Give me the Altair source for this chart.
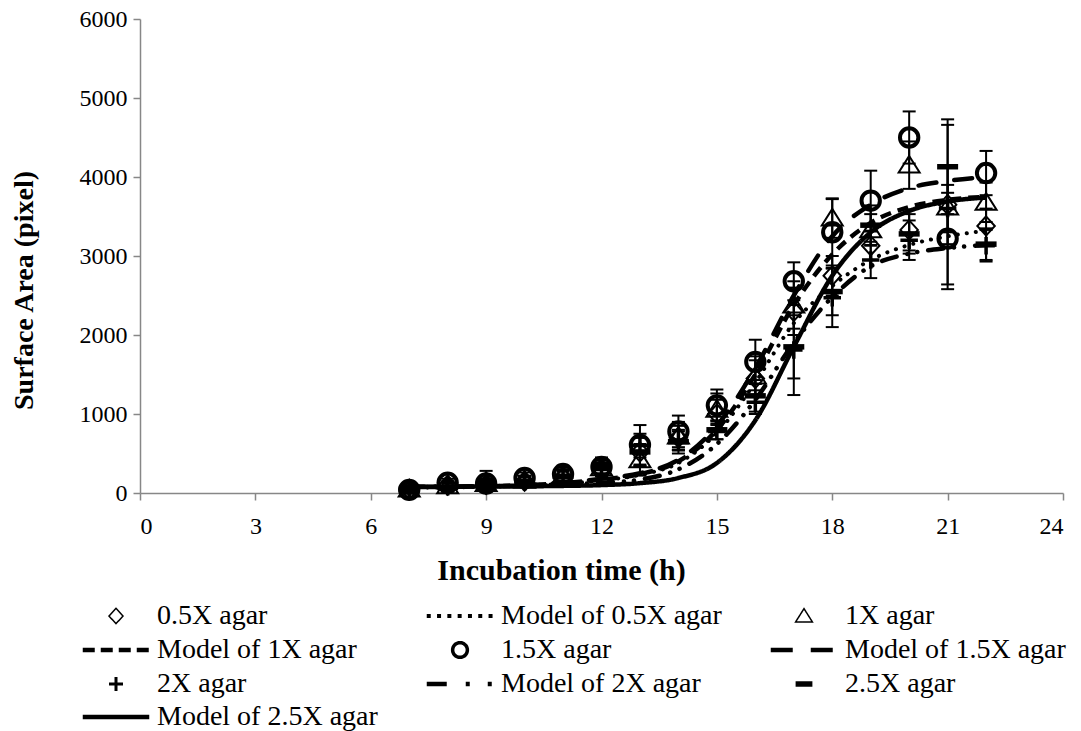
import math
import altair as alt
import pandas as pd

SERIF = "Liberation Serif"

hours = list(range(7, 23))

groups = ["0.5X agar", "1X agar", "1.5X agar", "2X agar", "2.5X agar"]
models = ["Model of 0.5X agar", "Model of 1X agar", "Model of 1.5X agar",
          "Model of 2X agar", "Model of 2.5X agar"]

# observed surface area (pixel), mean per hour
mean_05x = [40, 100, 110, 150, 200, 300, 520, 700, 1000, 1450, 2300, 2750, 3130, 3330, 3650, 3380]
mean_1x = [50, 90, 120, 160, 220, 320, 420, 720, 1060, 1480, 2380, 3480, 3330, 4150, 3620, 3680]
mean_15x = [40, 130, 120, 190, 240, 330, 610, 780, 1110, 1660, 2680, 3300, 3700, 4500, 3220, 4050]
mean_2x = [60, 80, 150, 140, 220, 350, 600, 660, 780, 1150, 1810, 2470, 2950, 3200, 3600, 3130]
mean_25x = [50, 70, 110, 150, 210, 310, 520, 650, 800, 1230, 1850, 2550, 3390, 3280, 4130, 3150]

# standard deviations
sd_05x = [40, 50, 60, 60, 70, 80, 180, 150, 180, 230, 300, 250, 180, 260, 500, 220]
sd_1x = [40, 50, 60, 60, 70, 90, 200, 180, 200, 250, 300, 250, 200, 300, 1040, 250]
sd_15x = [50, 50, 60, 70, 80, 100, 250, 200, 200, 280, 240, 420, 380, 330, 580, 280]
sd_2x = [40, 60, 130, 60, 80, 100, 150, 120, 100, 150, 570, 370, 230, 250, 300, 200]
sd_25x = [40, 50, 60, 60, 80, 100, 180, 150, 120, 200, 400, 300, 250, 250, 600, 200]

# fitted growth models, evaluated hourly
fit_05x = [70, 72, 78, 90, 115, 160, 230, 380, 760, 1400, 2150, 2620, 2950, 3140, 3250, 3320]
fit_1x = [75, 78, 85, 100, 125, 170, 240, 400, 800, 1500, 2380, 3020, 3420, 3620, 3710, 3750]
fit_15x = [75, 78, 85, 100, 130, 180, 250, 420, 850, 1580, 2500, 3250, 3650, 3860, 3950, 4000]
fit_2x = [80, 82, 86, 95, 110, 130, 170, 300, 620, 1180, 1900, 2480, 2870, 3030, 3100, 3140]
fit_25x = [80, 80, 82, 85, 90, 100, 125, 190, 380, 920, 1850, 2750, 3300, 3570, 3690, 3740]

means = dict(zip(groups, [mean_05x, mean_1x, mean_15x, mean_2x, mean_25x]))
sds = dict(zip(groups, [sd_05x, sd_1x, sd_15x, sd_2x, sd_25x]))
fits = dict(zip(models, [fit_05x, fit_1x, fit_15x, fit_2x, fit_25x]))

# legend reads row by row: each group followed by its model
legend_order = [name for pair in zip(groups, models) for name in pair]
LEGEND_COLS = 3
n_entries = len(legend_order)
n_rows = math.ceil(n_entries / LEGEND_COLS)
# Vega fills multi-column legends column-first and then re-flows rows;
# arrange the scale domain so the entries come out in reading order.
placement = sorted(range(n_entries), key=lambda i: (i % n_rows, i))
legend_domain = [None] * n_entries
for k, idx in enumerate(placement):
    legend_domain[idx] = legend_order[k]

# marker outlines in unit symbol space
marker_path = {
    "0.5X agar": "M0,-0.22L0.2,0L0,0.22L-0.2,0Z",
    "1X agar": "M0,-0.21L0.24,0.17L-0.24,0.17Z",
    "1.5X agar": "M0.21,0A0.21,0.21,0,1,1,-0.21,0A0.21,0.21,0,1,1,0.21,0Z",
    "2X agar": "M-0.2,0H0.2M0,-0.2V0.2",
    "2.5X agar": "M-0.24,0H0.24",
}
line_path = "M-0.95,0H0.95"
marker_width = {"0.5X agar": 2, "1X agar": 2, "1.5X agar": 4, "2X agar": 3.5, "2.5X agar": 5.5}

line_style = {
    "Model of 0.5X agar": dict(strokeDash=[0.1, 9], strokeCap="round", strokeWidth=4),
    "Model of 1X agar": dict(strokeDash=[11, 7], strokeCap="butt", strokeWidth=4.5),
    "Model of 1.5X agar": dict(strokeDash=[18, 18], strokeCap="round", strokeWidth=4.5),
    "Model of 2X agar": dict(strokeDash=[15, 11, 0.1, 10, 0.1, 11], strokeCap="round", strokeWidth=4.5),
    "Model of 2.5X agar": dict(strokeDash=[1, 0], strokeCap="butt", strokeWidth=4.5),
}

legend_width = {"0.5X agar": 1.5, "1X agar": 1.5, "1.5X agar": 3.5, "2X agar": 3, "2.5X agar": 5.5,
                "Model of 0.5X agar": 4, "Model of 1X agar": 4.5, "Model of 1.5X agar": 4.5,
                "Model of 2X agar": 4.5, "Model of 2.5X agar": 4.5}
legend_dash = {"Model of 0.5X agar": [4, 6.3], "Model of 1X agar": [12, 6],
               "Model of 1.5X agar": [22, 18], "Model of 2X agar": [20, 19, 4, 18, 4, 20]}


def per_entry(mapping, default):
    expr = str(default)
    for key, val in mapping.items():
        expr = f"datum.value === '{key}' ? {val} : ({expr})"
    return expr


shape_scale = alt.Scale(
    domain=legend_domain,
    range=[marker_path[n] if n in marker_path else line_path for n in legend_domain],
)

legend = alt.Legend(
    title=None, orient="none", legendX=-38, legendY=583, columns=LEGEND_COLS,
    symbolSize=4900, labelFont=SERIF, labelFontSize=28, labelColor="black",
    labelLimit=500, labelOffset=27, columnPadding=39, rowPadding=5,
    symbolStrokeColor="black",
    symbolStrokeWidth=alt.ExprRef(per_entry(legend_width, 2)),
    symbolDash=alt.ExprRef(per_entry(legend_dash, [1, 0])),
)

xs = alt.Scale(domain=[0, 24], nice=False, zero=False)
ys = alt.Scale(domain=[0, 6000], nice=False)
axis_common = dict(grid=False, domainColor="#878787", domainWidth=1.5, tickColor="#878787",
                   tickWidth=1.5, tickSize=7, labelFont=SERIF, labelFontSize=24,
                   labelColor="black", titleFont=SERIF, titleFontWeight="bold",
                   titleColor="black", format="d")
xaxis = alt.Axis(values=list(range(0, 25, 3)), labelPadding=14, titleX=421, titleY=62,
                 titleAnchor="middle", titleFontSize=30, **axis_common)
yaxis = alt.Axis(values=list(range(0, 6001, 1000)), labelPadding=6, titleX=-102, titleY=271,
                 titleFontSize=28, **axis_common)
XT = "Incubation time (h)"
YT = "Surface Area (pixel)"

rows = []
for g in groups:
    for t, m, s in zip(hours, means[g], sds[g]):
        rows.append({"series": g, "t": t, "v": m, "lo": m - s, "hi": m + s})
obs = pd.DataFrame(rows)

fit_rows = []
for name in models:
    for t, v in zip(hours, fits[name]):
        fit_rows.append({"model": name, "t": t, "v": v})
fit_df = pd.DataFrame(fit_rows)


def xenc():
    return alt.X("t:Q", scale=xs, axis=xaxis, title=XT)


def yenc(field):
    return alt.Y(f"{field}:Q", scale=ys, axis=yaxis, title=YT)


base_obs = alt.Chart(obs)
bars = base_obs.mark_rule(color="black", strokeWidth=2).encode(
    x=xenc(), y=yenc("lo"), y2="hi:Q",
)
caps_lo = base_obs.mark_tick(color="black", orient="horizontal", size=13, thickness=2,
                             opacity=1).encode(x=xenc(), y=yenc("lo"))
caps_hi = base_obs.mark_tick(color="black", orient="horizontal", size=13, thickness=2,
                             opacity=1).encode(x=xenc(), y=yenc("hi"))

layers = [bars, caps_lo, caps_hi]
for g, name in zip(groups, models):
    pts = alt.Chart(obs[obs.series == g]).mark_point(
        filled=False, color="black", opacity=1, size=7650
    ).encode(
        x=xenc(), y=yenc("v"),
        shape=alt.Shape("series:N", scale=shape_scale, legend=legend),
        strokeWidth=alt.value(marker_width[g]),
    )
    curve = alt.Chart(fit_df[fit_df.model == name]).mark_line(
        color="black", interpolate="monotone", **line_style[name]
    ).encode(x=xenc(), y=yenc("v"))
    layers += [pts, curve]

chart = alt.layer(*layers).properties(
    width=923, height=474,
    padding={"left": 140, "top": 19, "right": 18, "bottom": 238},
    autosize=alt.AutoSizeParams(type="none"),
    background="white",
).configure(font=SERIF).configure_view(stroke=None).configure_axis(
    labelFont=SERIF, titleFont=SERIF
).configure_text(font=SERIF)

chart.save("out.html", embed_options={"renderer": "svg", "actions": False})
